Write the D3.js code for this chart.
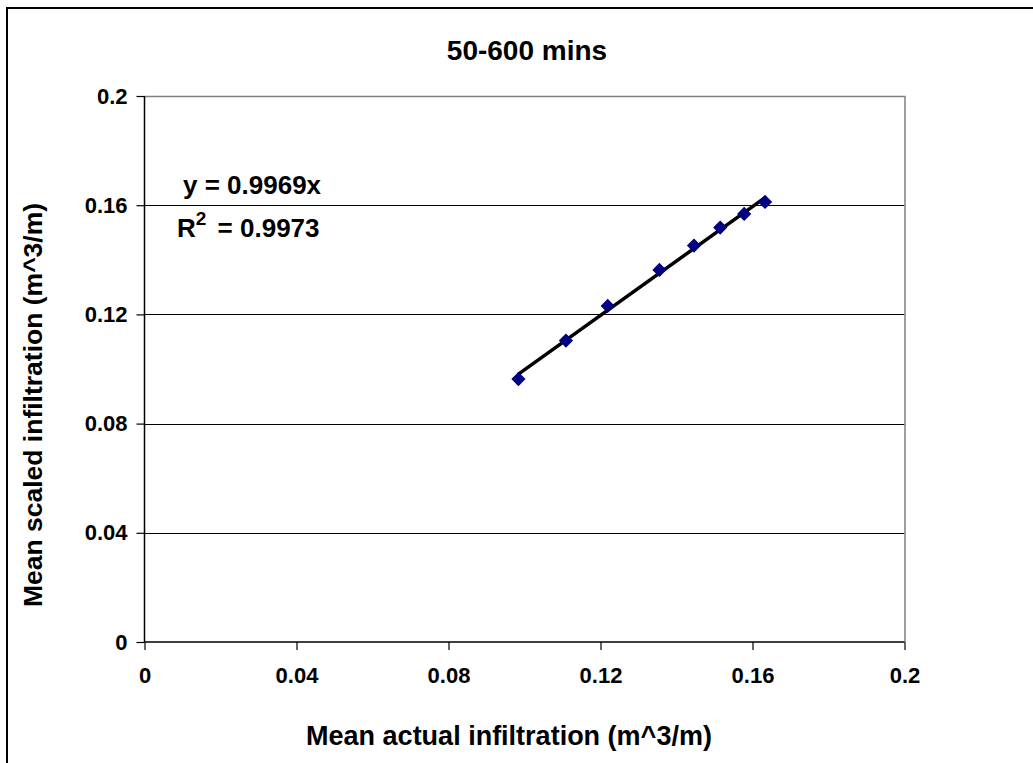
<!DOCTYPE html>
<html><head><meta charset="utf-8">
<script src="https://cdn.jsdelivr.net/npm/d3@7"></script>
<style>body{margin:0;background:#fff}svg{display:block}</style>
</head><body>
<script>
const xValues = [0.0984, 0.1109, 0.1219, 0.1355, 0.1446, 0.1515, 0.1578, 0.1633];
const yValues = [0.0963, 0.1104, 0.1231, 0.1363, 0.1452, 0.1518, 0.1568, 0.1612];
const tickValues = [0, 0.04, 0.08, 0.12, 0.16, 0.2];
const tickLabels = ["0", "0.04", "0.08", "0.12", "0.16", "0.2"];
const slope = 0.9969;
const r2 = "0.9973";
const title = "50-600 mins";
const xTitle = "Mean actual infiltration (m^3/m)";
const yTitle = "Mean scaled infiltration (m^3/m)";

const W = 1033, H = 763;
const L = 144.5, R = 904.5, T = 96, B = 642;
const font = "'Liberation Sans', Arial, sans-serif";

const svg = d3.select("body").append("svg").attr("width", W).attr("height", H);
svg.append("rect").attr("width", W).attr("height", H).attr("fill", "#fff");
svg.append("rect").attr("x", 7).attr("y", 8).attr("width", W + 20).attr("height", H + 20)
  .attr("fill", "none").attr("stroke", "#000").attr("stroke-width", 2);

const x = d3.scaleLinear().domain([0, 0.2]).range([L, R]);
const y = d3.scaleLinear().domain([0, 0.2]).range([B, T]);

// gridlines
svg.append("g").selectAll("line").data(tickValues.filter(v => v > 0 && v < 0.2)).join("line")
  .attr("x1", L).attr("x2", R).attr("y1", d => Math.round(y(d)) + 0.5).attr("y2", d => Math.round(y(d)) + 0.5)
  .attr("stroke", "#000").attr("stroke-width", 1);
// plot border top/right gray
svg.append("path").attr("d", `M${L},${T + 0.5}H${R + 0.5}V${B}`).attr("fill", "none")
  .attr("stroke", "#808080").attr("stroke-width", 1.5);

const fmt = d => tickLabels[tickValues.indexOf(d)];
const yAxis = svg.append("g").attr("transform", `translate(${L},0)`)
  .call(d3.axisLeft(y).tickValues(tickValues).tickFormat(fmt).tickSize(8).tickPadding(9));
const xAxis = svg.append("g").attr("transform", `translate(0,${B})`)
  .call(d3.axisBottom(x).tickValues(tickValues).tickFormat(fmt).tickSize(8).tickPadding(17));
[xAxis, yAxis].forEach(a => {
  a.select(".domain").attr("stroke", "#000").attr("stroke-width", 1.5);
  a.selectAll(".tick line").attr("stroke", "#000").attr("stroke-width", 1.2);
  a.selectAll("text").attr("font-family", font).attr("font-weight", "bold")
    .attr("font-size", 22).attr("fill", "#000");
});
xAxis.select(".domain").attr("d", `M${L},0H${R}`);
yAxis.select(".domain").attr("d", `M0,${B}V${T}`);

// trendline
const xmin = d3.min(xValues), xmax = d3.max(xValues);
svg.append("line").attr("x1", x(xmin)).attr("y1", y(slope * xmin))
  .attr("x2", x(xmax)).attr("y2", y(slope * xmax))
  .attr("stroke", "#000").attr("stroke-width", 3.5);

// markers
svg.append("g").selectAll("path").data(xValues.map((v, i) => [v, yValues[i]])).join("path")
  .attr("d", d3.symbol().type(d3.symbolSquare).size(78))
  .attr("transform", d => `translate(${x(d[0])},${y(d[1])}) rotate(45)`)
  .attr("fill", "#000080").attr("stroke", "#000080").attr("stroke-width", 1.2);

// titles
svg.append("text").attr("x", 527).attr("y", 60).attr("text-anchor", "middle")
  .attr("font-family", font).attr("font-weight", "bold").attr("font-size", 28).text(title);
svg.append("text").attr("x", 509).attr("y", 745).attr("text-anchor", "middle")
  .attr("font-family", font).attr("font-weight", "bold").attr("font-size", 27).text(xTitle);
svg.append("text").attr("transform", "translate(42,405) rotate(-90)").attr("text-anchor", "middle")
  .attr("font-family", font).attr("font-weight", "bold").attr("font-size", 26.5).text(yTitle);

// equation
const eq = svg.append("g").attr("font-family", font).attr("font-weight", "bold").attr("font-size", 26);
eq.append("text").attr("x", 183).attr("y", 194).text(`y = ${slope}x`);
const t2 = eq.append("text").attr("x", 177).attr("y", 237);
t2.append("tspan").text("R");
t2.append("tspan").attr("dy", -12).attr("font-size", 19).text("2");
t2.append("tspan").attr("dy", 12).attr("dx", 4).text(` = ${r2}`);
</script>
</body></html>
